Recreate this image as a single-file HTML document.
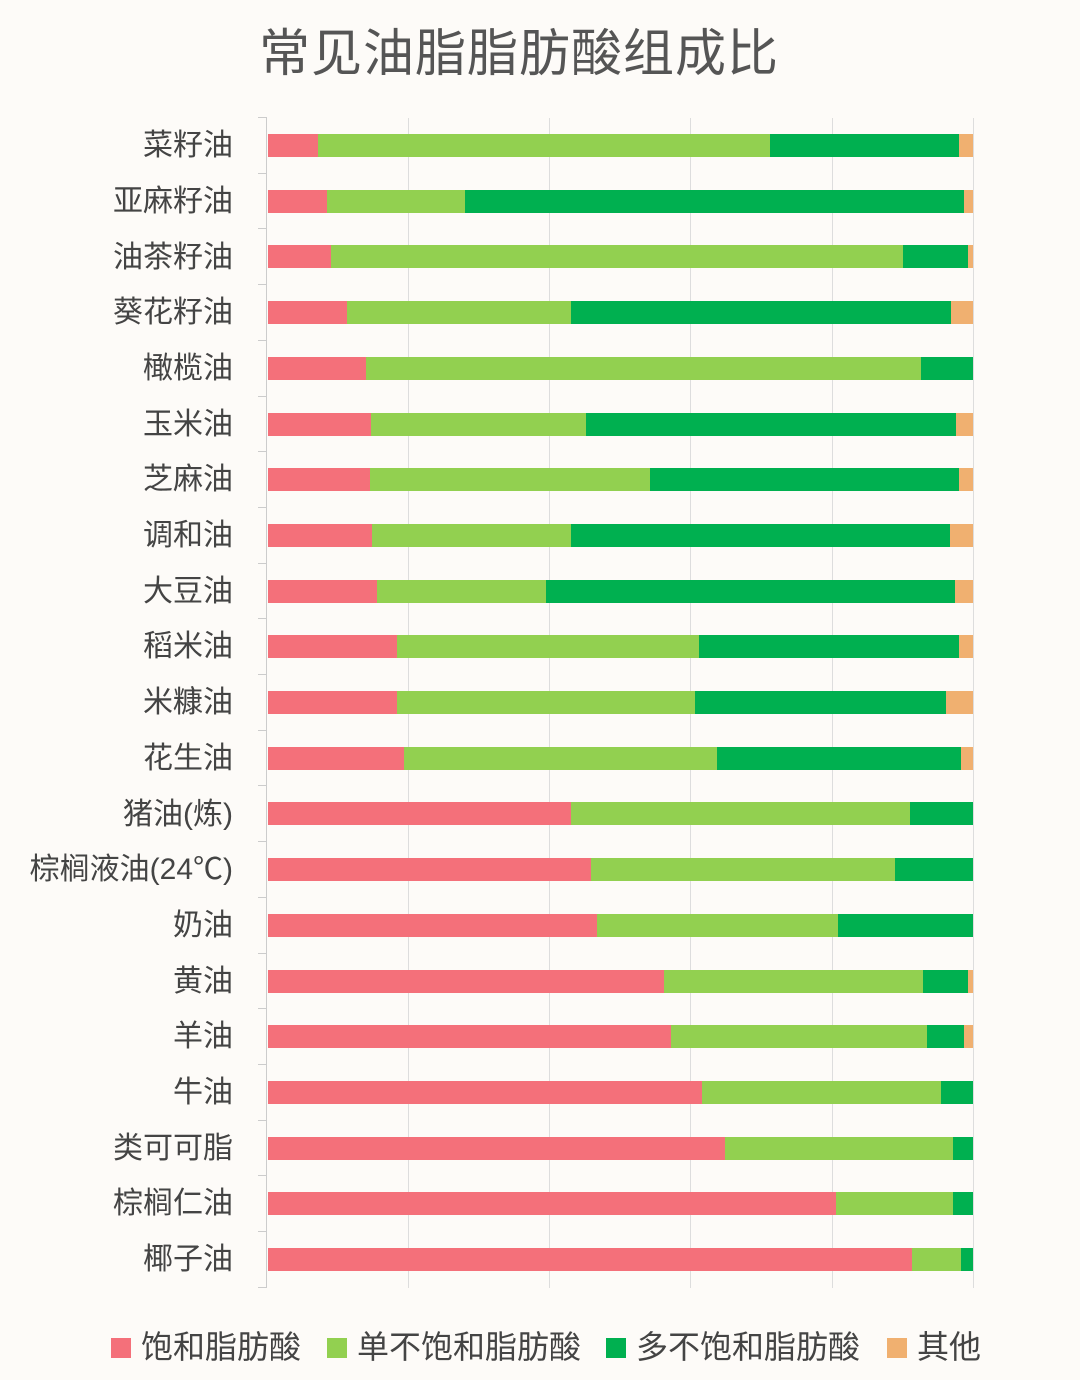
<!DOCTYPE html>
<html><head><meta charset="utf-8">
<style>
body{margin:0;width:1080px;height:1380px;background:#fdfbf8;position:relative;overflow:hidden;font-family:"Liberation Sans","Noto Sans CJK SC",sans-serif;color:#4a4a4a}
.t{position:absolute;left:0;width:1038px;text-align:center;top:12px;font-size:51px;color:#555;letter-spacing:1px}
.l{position:absolute;right:847px;font-size:30px;line-height:34px;white-space:nowrap;color:#444;margin-top:2px}
.g{position:absolute;top:118px;height:1170px;width:1px;background:#ddd}
.b{position:absolute;height:23px}
.tk{position:absolute;left:258px;width:9px;height:1px;background:#ccc}
.lg{position:absolute;top:1328px;font-size:32px;line-height:38px;color:#444}
.sq{position:absolute;top:1338px;width:20px;height:20px}
</style></head><body>
<div class="t">常见油脂脂肪酸组成比</div>
<div class="g" style="left:266px;background:#ccc"></div>
<div class="g" style="left:408px"></div>
<div class="g" style="left:549px"></div>
<div class="g" style="left:690px"></div>
<div class="g" style="left:832px"></div>
<div class="g" style="left:973px"></div>
<div class="l" style="top:127px">菜籽油</div>
<div class="l" style="top:183px">亚麻籽油</div>
<div class="l" style="top:239px">油茶籽油</div>
<div class="l" style="top:294px">葵花籽油</div>
<div class="l" style="top:350px">橄榄油</div>
<div class="l" style="top:406px">玉米油</div>
<div class="l" style="top:461px">芝麻油</div>
<div class="l" style="top:517px">调和油</div>
<div class="l" style="top:573px">大豆油</div>
<div class="l" style="top:628px">稻米油</div>
<div class="l" style="top:684px">米糠油</div>
<div class="l" style="top:740px">花生油</div>
<div class="l" style="top:796px">猪油(炼)</div>
<div class="l" style="top:851px">棕榈液油(24℃)</div>
<div class="l" style="top:907px">奶油</div>
<div class="l" style="top:963px">黄油</div>
<div class="l" style="top:1018px">羊油</div>
<div class="l" style="top:1074px">牛油</div>
<div class="l" style="top:1130px">类可可脂</div>
<div class="l" style="top:1185px">棕榈仁油</div>
<div class="l" style="top:1241px">椰子油</div>
<div id="bars"></div>
<div class="sq" style="left:111px;background:#f4707a"></div><div class="lg" style="left:141px">饱和脂肪酸</div>
<div class="sq" style="left:327px;background:#92d050"></div><div class="lg" style="left:357px">单不饱和脂肪酸</div>
<div class="sq" style="left:606px;background:#00b050"></div><div class="lg" style="left:636px">多不饱和脂肪酸</div>
<div class="sq" style="left:887px;background:#f0b070"></div><div class="lg" style="left:917px">其他</div>
<script>
var d=[[318,770,959],[327,465,964],[331,903,968],[347,571,951],[366,921,973],[371,586,956],[370,650,959],[372,571,950],[377,546,955],[397,699,959],[397,695,946],[404,717,961],[571,910,973],[591,895,973],[597,838,973],[664,923,968],[671,927,964],[702,941,973],[725,953,973],[836,953,973],[912,961,973]];
var c=['#f4707a','#92d050','#00b050','#f0b070'],h='';
for(var i=0;i<d.length;i++){var y=Math.round(134+i*55.7),p=[268].concat(d[i]).concat([973]);
for(var k=0;k<4;k++){var w=p[k+1]-p[k];if(w>0)h+='<div class="b" style="left:'+p[k]+'px;top:'+y+'px;width:'+w+'px;background:'+c[k]+'"></div>';}
h+='<div class="tk" style="top:'+Math.round(117+i*55.7)+'px"></div>';}
h+='<div class="tk" style="top:'+Math.round(117+21*55.7)+'px"></div>';
document.getElementById('bars').innerHTML=h;
</script>
</body></html>
